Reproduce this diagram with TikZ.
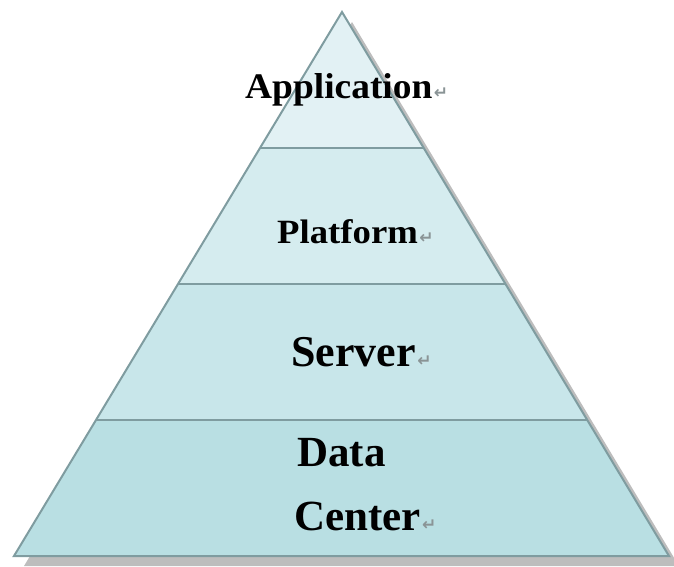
\documentclass[tikz,border=0pt]{standalone}
\usepackage{fontspec}
\setmainfont{Liberation Serif}
\newfontfamily\arrowfont{DejaVu Sans}
\usetikzlibrary{calc}

\definecolor{layerapp}{HTML}{E2F1F4}
\definecolor{layerplat}{HTML}{D5ECEF}
\definecolor{layerserv}{HTML}{C8E6EA}
\definecolor{layerdata}{HTML}{B9DFE3}
\definecolor{edgeline}{HTML}{7F9CA0}
\definecolor{shadowgray}{HTML}{BDBDBD}
\definecolor{retgray}{HTML}{8A9496}

% paragraph mark printed after each label
\newcommand\retmark{\hspace{1.5pt}{\arrowfont\fontsize{17}{17}\selectfont\color{retgray}↵}}

\tikzset{
  layer/.style={fill=#1, draw=none},
  edge/.style={draw=edgeline, line width=2pt, line join=miter},
  lbl/.style={inner sep=0pt, anchor=base west, font=\bfseries, text=black},
}

\begin{document}
\begin{tikzpicture}[x=1pt, y=-1pt]
\useasboundingbox (0,0) rectangle (674,567);
\clip (0,0) rectangle (674,567);

% corners of the pyramid
\coordinate (apex) at (342,12);
\coordinate (bl) at (14,556);
\coordinate (br) at (669,556);

% layer boundaries on both sides
\coordinate (l1) at ($(apex)!0.25!(bl)$);
\coordinate (r1) at ($(apex)!0.25!(br)$);
\coordinate (l2) at ($(apex)!0.5!(bl)$);
\coordinate (r2) at ($(apex)!0.5!(br)$);
\coordinate (l3) at ($(apex)!0.75!(bl)$);
\coordinate (r3) at ($(apex)!0.75!(br)$);

% drop shadow
\fill[shadowgray] ($(apex)+(10,10)$) -- ($(bl)+(10,10)$) -- ($(br)+(10,10)$) -- cycle;

% the four layers
\fill[layer=layerapp]  (apex) -- (l1) -- (r1) -- cycle;
\fill[layer=layerplat] (l1) -- (l2) -- (r2) -- (r1) -- cycle;
\fill[layer=layerserv] (l2) -- (l3) -- (r3) -- (r2) -- cycle;
\fill[layer=layerdata] (l3) -- (bl) -- (br) -- (r3) -- cycle;

% outline and dividers
\draw[edge] (l1) -- (r1);
\draw[edge] (l2) -- (r2);
\draw[edge] (l3) -- (r3);
\draw[edge] (apex) -- (bl) -- (br) -- cycle;

% labels
\node[lbl] (app) at (245,99)
  {\fontsize{36}{36}\selectfont\scalebox{1.04}[1]{Application}\retmark};
\node[lbl] (plat) at (277,243)
  {\fontsize{34}{34}\selectfont\scalebox{1.08}[1]{Platform}\retmark};
\node[lbl] (serv) at (291,366)
  {\fontsize{44}{44}\selectfont Server\retmark};
\node[lbl] (data) at (297,466)
  {\fontsize{43}{43}\selectfont Data};
\node[lbl] (cent) at (294,530)
  {\fontsize{43}{43}\selectfont Center\retmark};
\end{tikzpicture}
\end{document}
